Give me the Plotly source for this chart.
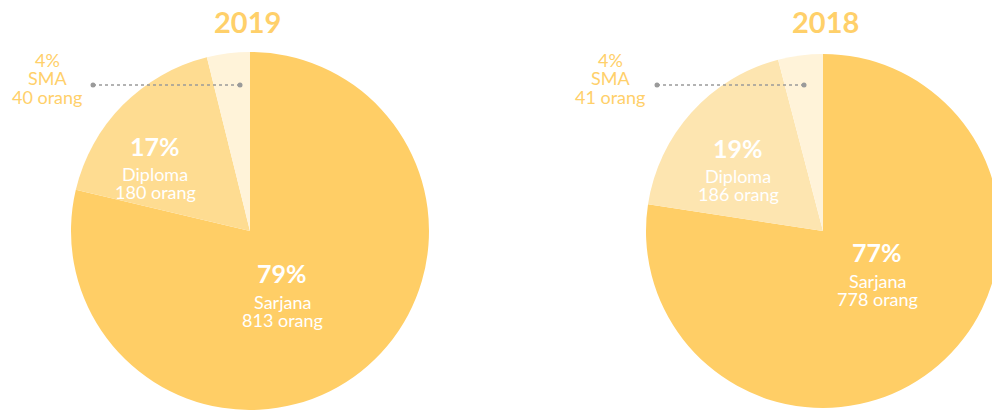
import plotly.graph_objects as go

# Data
categories = ["Sarjana", "Diploma", "SMA"]
years = ["2019", "2018"]
values_2019 = [813, 180, 40]
values_2018 = [778, 186, 41]
pct_2019 = ["79%", "17%", "4%"]
pct_2018 = ["77%", "19%", "4%"]

colors_2019 = ["#FFCE66", "#FEDC91", "#FFF3D9"]
colors_2018 = ["#FFCE66", "#FDE5B0", "#FFF3D9"]

# page body has an 8px margin; figure fills the rest of the window
OFF = 8
W, H = 1000 - OFF, 410 - OFF
MT = 52 - OFF
PH = H - MT

def px(x):
    return (x - OFF) / W

def py(y):
    return 1 - (y - OFF - MT) / PH

fig = go.Figure()
fig.add_trace(go.Pie(
    labels=categories, values=values_2019, sort=False, direction="clockwise",
    rotation=0, marker=dict(colors=colors_2019, line=dict(width=0)),
    textinfo="none", hoverinfo="label+value", showlegend=False,
    domain=dict(x=[px(250 - 179), px(250 + 179)], y=[0, 1])))
fig.add_trace(go.Pie(
    labels=categories, values=values_2018, sort=False, direction="clockwise",
    rotation=0, marker=dict(colors=colors_2018, line=dict(width=0)),
    textinfo="none", hoverinfo="label+value", showlegend=False,
    domain=dict(x=[px(823 - 177), 1.0], y=[0, 1])))

FONT = "Lato"
GOLD = "#FFD06A"
ann = []

def txt(x, y, s, size, color="white", bold=False):
    ann.append(dict(x=px(x), y=py(y), xref="paper", yref="paper", text=(f"<b>{s}</b>" if bold else s),
                    showarrow=False, xanchor="center", yanchor="middle",
                    font=dict(family=FONT, size=size, color=color)))

def block(year, vals, pcts, pos):
    tx, ty = pos["title"]
    txt(tx, ty, year, 29, GOLD, True)
    sx, sy = pos["sarjana"]
    txt(sx, sy, pcts[0], 25, "white", True)
    txt(sx, sy + 29, categories[0], 18)
    txt(sx, sy + 47, f"{vals[0]} orang", 18)
    dx, dy = pos["diploma"]
    txt(dx, dy, pcts[1], 25, "white", True)
    txt(dx, dy + 28, categories[1], 18)
    txt(dx, dy + 46, f"{vals[1]} orang", 18)
    mx, my = pos["sma"]
    txt(mx, my, pcts[2], 18, GOLD)
    txt(mx, my + 18, categories[2], 18, GOLD)
    txt(mx, my + 37, f"{vals[2]} orang", 18, GOLD)

block(years[0], values_2019, pct_2019,
      dict(title=(247, 22), sarjana=(282, 273), diploma=(155, 146), sma=(47, 60)))
block(years[1], values_2018, pct_2018,
      dict(title=(825, 22), sarjana=(877, 252), diploma=(738, 148), sma=(610, 60)))

shapes = []
for x0, x1 in [(93, 240), (657, 804)]:
    shapes.append(dict(type="line", xref="paper", yref="paper", x0=px(x0), x1=px(x1),
                       y0=py(85), y1=py(85), line=dict(color="#9A9A9A", width=1.5, dash="dot")))
    for xc in (x0, x1):
        shapes.append(dict(type="circle", xref="paper", yref="paper",
                           x0=px(xc - 2.5), x1=px(xc + 2.5), y0=py(87.5), y1=py(82.5),
                           fillcolor="#9A9A9A", line=dict(width=0)))

fig.update_layout(width=W, height=H, margin=dict(l=0, r=0, t=MT, b=0),
                  paper_bgcolor="white", plot_bgcolor="white",
                  annotations=ann, shapes=shapes)
fig.write_html("out.html")
